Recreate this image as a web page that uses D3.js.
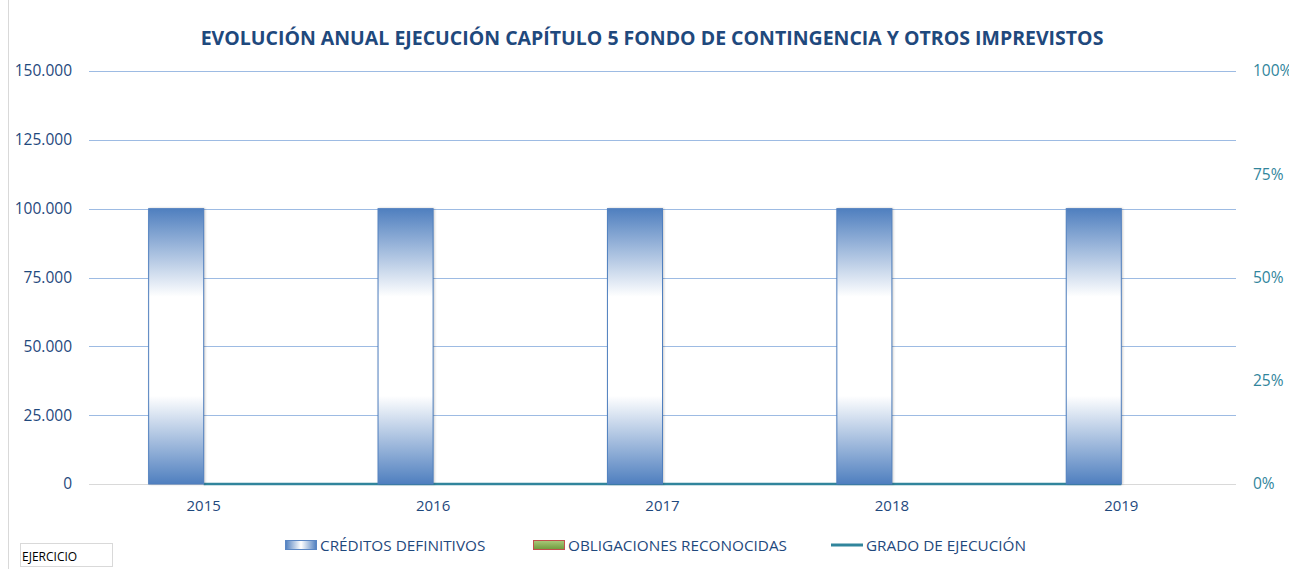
<!DOCTYPE html>
<html>
<head>
<meta charset="utf-8">
<script src="https://cdn.jsdelivr.net/npm/d3@7"></script>
<style>
  body { margin: 0; background: #fff; }
  svg { display: block; font-family: "Open Sans", sans-serif; }
</style>
</head>
<body>
<svg id="chart" width="1289" height="569"></svg>
<script>
const years = ["2015", "2016", "2017", "2018", "2019"]
const creditos = [100000, 100000, 100000, 100000, 100000]
const obligaciones = [0, 0, 0, 0, 0]
const grado = [0, 0, 0, 0, 0]
const leftTicks = [0, 25000, 50000, 75000, 100000, 125000, 150000]
const rightTicks = [0, 0.25, 0.5, 0.75, 1]

const svg = d3.select("#chart")
const margin = { top: 71, right: 53, bottom: 85, left: 89 }
const width = +svg.attr("width") - margin.left - margin.right
const height = +svg.attr("height") - margin.top - margin.bottom

const defs = svg.append("defs")
const gv = defs.append("linearGradient").attr("id", "barGrad").attr("x1", 0).attr("y1", 0).attr("x2", 0).attr("y2", 1)
gv.append("stop").attr("offset", "0%").attr("stop-color", "#4f7fbf")
gv.append("stop").attr("offset", "32%").attr("stop-color", "#ffffff")
gv.append("stop").attr("offset", "68%").attr("stop-color", "#ffffff")
gv.append("stop").attr("offset", "100%").attr("stop-color", "#4f7fbf")
const gh = defs.append("linearGradient").attr("id", "legGrad").attr("x1", 0).attr("y1", 0).attr("x2", 1).attr("y2", 0)
gh.append("stop").attr("offset", "0%").attr("stop-color", "#4f7fbf")
gh.append("stop").attr("offset", "50%").attr("stop-color", "#ffffff")
gh.append("stop").attr("offset", "100%").attr("stop-color", "#4f7fbf")
const gg = defs.append("linearGradient").attr("id", "greenGrad").attr("x1", 0).attr("y1", 0).attr("x2", 0).attr("y2", 1)
gg.append("stop").attr("offset", "0%").attr("stop-color", "#a9c97a")
gg.append("stop").attr("offset", "100%").attr("stop-color", "#6f9a3c")

// chart area border at left
svg.append("line").attr("x1", 8.5).attr("x2", 8.5).attr("y1", 0).attr("y2", 569)
    .attr("stroke", "#d9d9d9")

svg.append("text")
    .attr("x", 652).attr("y", 45)
    .attr("text-anchor", "middle")
    .attr("font-size", 19.5).attr("font-weight", "bold")
    .attr("fill", "#1f497d")
    .text("EVOLUCIÓN ANUAL EJECUCIÓN CAPÍTULO 5 FONDO DE CONTINGENCIA Y OTROS IMPREVISTOS")

const g = svg.append("g").attr("transform", "translate(" + margin.left + "," + margin.top + ")")

const x = d3.scaleBand().domain(years).range([0, width])
const y = d3.scaleLinear().domain([0, 150000]).range([height, 0])
const y2 = d3.scaleLinear().domain([0, 1]).range([height, 0])
const barW = x.bandwidth() * 0.24

// gridlines
g.selectAll(".grid")
    .data(leftTicks.filter(d => d > 0))
    .enter().append("line")
    .attr("x1", 0).attr("x2", width)
    .attr("y1", d => Math.round(y(d)) + 0.5).attr("y2", d => Math.round(y(d)) + 0.5)
    .attr("stroke", "#9dbbe3").attr("stroke-width", 1)
g.append("line")
    .attr("x1", 0).attr("x2", width)
    .attr("y1", y(0) + 0.5).attr("y2", y(0) + 0.5)
    .attr("stroke", "#d9d9d9")

// left axis
const fmt = d => d3.format(",")(d).replace(/,/g, ".")
g.append("g")
    .call(d3.axisLeft(y).tickValues(leftTicks).tickFormat(fmt).tickSize(0).tickPadding(17))
    .call(a => a.select(".domain").remove())
    .selectAll("text")
    .attr("font-size", 15.5).attr("fill", "#1f497d").attr("font-family", "Open Sans")

// right axis
g.append("g")
    .attr("transform", "translate(" + width + ",0)")
    .call(d3.axisRight(y2).tickValues(rightTicks).tickFormat(d3.format(".0%")).tickSize(0).tickPadding(17))
    .call(a => a.select(".domain").remove())
    .selectAll("text")
    .attr("font-size", 15.5).attr("fill", "#31859c").attr("font-family", "Open Sans")

// x axis labels
g.append("g")
    .attr("transform", "translate(0," + height + ")")
    .call(d3.axisBottom(x).tickSize(0).tickPadding(16))
    .call(a => a.select(".domain").remove())
    .selectAll("text")
    .attr("font-size", 15).attr("fill", "#1f497d").attr("font-family", "Open Sans")

// grado line (behind bars)
g.append("path")
    .datum(grado)
    .attr("fill", "none")
    .attr("stroke", "#31859c").attr("stroke-width", 2.5)
    .attr("d", d3.line().x((d, i) => x(years[i]) + x.bandwidth() / 2).y(d => y2(d)))

// creditos bars
g.selectAll(".cred")
    .data(creditos)
    .enter().append("rect")
    .attr("x", (d, i) => x(years[i]) + x.bandwidth() / 2 - barW)
    .attr("y", d => y(d))
    .attr("width", barW)
    .attr("height", d => height - y(d))
    .attr("fill", "url(#barGrad)")
    .attr("stroke", "#4f7fbf").attr("stroke-width", 1)
    .style("filter", "drop-shadow(1px 0px 1px rgba(0,0,0,0.2))")

// obligaciones bars
g.selectAll(".obl")
    .data(obligaciones)
    .enter().append("rect")
    .attr("x", (d, i) => x(years[i]) + x.bandwidth() / 2)
    .attr("y", d => y(d))
    .attr("width", barW)
    .attr("height", d => height - y(d))
    .attr("fill", "url(#greenGrad)")

// legend
const leg = svg.append("g").attr("font-size", 15.3).attr("fill", "#1f497d")
leg.append("rect").attr("x", 285.5).attr("y", 540.5).attr("width", 31).attr("height", 9)
    .attr("fill", "url(#legGrad)").attr("stroke", "#5b87c4")
leg.append("text").attr("x", 320).attr("y", 551).text("CRÉDITOS DEFINITIVOS")
leg.append("rect").attr("x", 533.5).attr("y", 540.5).attr("width", 31).attr("height", 9)
    .attr("fill", "url(#greenGrad)").attr("stroke", "#c0504d")
leg.append("text").attr("x", 568).attr("y", 551).text("OBLIGACIONES RECONOCIDAS")
leg.append("line").attr("x1", 831).attr("x2", 863).attr("y1", 545).attr("y2", 545)
    .attr("stroke", "#31859c").attr("stroke-width", 3)
leg.append("text").attr("x", 866).attr("y", 551).text("GRADO DE EJECUCIÓN")

// EJERCICIO field button
svg.append("rect").attr("x", 20.5).attr("y", 543.5).attr("width", 92).attr("height", 23)
    .attr("fill", "#fff").attr("stroke", "#d9d9d9")
svg.append("text").attr("x", 22).attr("y", 561).attr("font-size", 12).attr("fill", "#000")
    .text("EJERCICIO")
</script>
</body>
</html>
